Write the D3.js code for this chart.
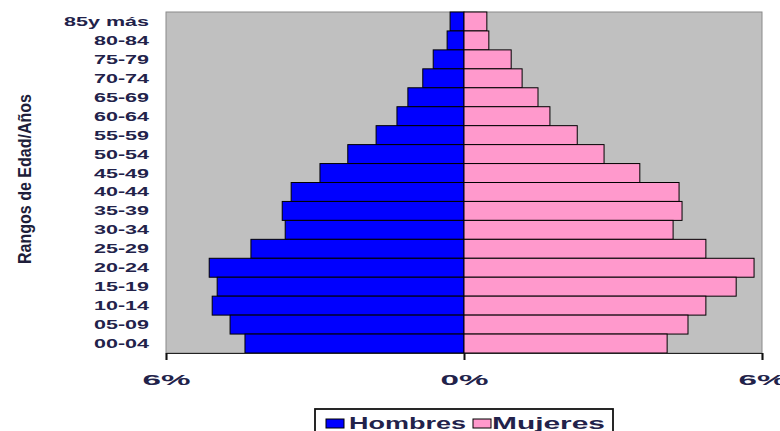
<!DOCTYPE html>
<html>
<head>
<meta charset="utf-8">
<script src="https://cdn.jsdelivr.net/npm/d3@7/dist/d3.min.js"></script>
<style>
  html, body { margin: 0; padding: 0; background: #ffffff; }
  svg { display: block; }
  text { font-family: "Liberation Sans", Arial, sans-serif; font-weight: bold; }
</style>
</head>
<body>
<svg id="chart" width="780" height="431"></svg>
<script>
// Age groups, oldest at the top
const ageGroups = ["85y más", "80-84", "75-79", "70-74", "65-69", "60-64", "55-59", "50-54",
  "45-49", "40-44", "35-39", "30-34", "25-29", "20-24", "15-19", "10-14", "05-09", "00-04"];
// Share of total population (%) per age group
const hombres = [0.28, 0.34, 0.62, 0.83, 1.13, 1.35, 1.77, 2.34, 2.90, 3.48, 3.66, 3.60, 4.29, 5.13, 4.97, 5.07, 4.71, 4.41];
const mujeres = [0.46, 0.50, 0.95, 1.17, 1.49, 1.73, 2.28, 2.82, 3.54, 4.33, 4.39, 4.21, 4.87, 5.84, 5.48, 4.87, 4.51, 4.09];
const xTicks = [-6, 0, 6];
const seriesNames = ["Hombres", "Mujeres"];
const colors = ["#0000ff", "#ff99cc"];

const svg = d3.select("#chart");
const plot = { left: 166, right: 762, top: 12, bottom: 353 };

const x = d3.scaleLinear().domain([-6, 6]).range([plot.left, plot.right]);
const y = d3.scaleBand().domain(ageGroups).range([plot.top, plot.bottom]).padding(0);

// Plot area
svg.append("rect")
  .attr("x", plot.left).attr("y", plot.top)
  .attr("width", plot.right - plot.left).attr("height", plot.bottom - plot.top)
  .attr("fill", "#c0c0c0").attr("stroke", "#8a8a8a").attr("stroke-width", 1);

const rows = ageGroups.map((g, i) => ({ g, m: hombres[i], f: mujeres[i] }));

// Male bars extend left of zero, female bars right
svg.append("g").selectAll("rect").data(rows).join("rect")
  .attr("x", d => x(-d.m)).attr("y", d => y(d.g))
  .attr("width", d => x(0) - x(-d.m)).attr("height", y.bandwidth())
  .attr("fill", colors[0]).attr("stroke", "#000").attr("stroke-width", 1);

svg.append("g").selectAll("rect").data(rows).join("rect")
  .attr("x", x(0)).attr("y", d => y(d.g))
  .attr("width", d => x(d.f) - x(0)).attr("height", y.bandwidth())
  .attr("fill", colors[1]).attr("stroke", "#000").attr("stroke-width", 1);

// Horizontal axis
const xAxis = svg.append("g")
  .attr("transform", `translate(0,${plot.bottom})`)
  .call(d3.axisBottom(x).tickValues(xTicks).tickSize(7).tickPadding(14)
    .tickFormat(d => Math.abs(d) + "%"));
xAxis.select(".domain").attr("stroke", "#222").attr("stroke-width", 1.2);
xAxis.selectAll(".tick line").attr("stroke", "#111").attr("stroke-width", 2);
xAxis.selectAll(".tick text")
  .attr("fill", "#22224a").attr("font-size", 15).attr("font-weight", "bold")
  .attr("font-family", "'Liberation Sans', Arial, sans-serif")
  .attr("textLength", 48).attr("lengthAdjust", "spacingAndGlyphs");

// Age group labels
svg.append("g").selectAll("text").data(ageGroups).join("text")
  .attr("x", 149).attr("y", d => y(d) + y.bandwidth() / 2 + 4.5)
  .attr("text-anchor", "end").attr("font-size", 12.5).attr("fill", "#22224a")
  .text(d => d)
  .each(function () {
    const w = this.getComputedTextLength();
    d3.select(this).attr("textLength", w * 1.72).attr("lengthAdjust", "spacingAndGlyphs");
  });

// Vertical axis title
svg.append("text")
  .attr("transform", "translate(31,179) rotate(-90)")
  .attr("text-anchor", "middle")
  .attr("font-family", "'Liberation Sans Narrow', 'Arial Narrow', 'Liberation Sans', sans-serif")
  .attr("font-size", 18).attr("fill", "#1e1e3a")
  .attr("textLength", 170).attr("lengthAdjust", "spacingAndGlyphs")
  .text("Rangos de Edad/Años");

// Legend
const legend = svg.append("g");
legend.append("rect")
  .attr("x", 315).attr("y", 409).attr("width", 298).attr("height", 40)
  .attr("fill", "#fff").attr("stroke", "#111").attr("stroke-width", 1.8);
const legendItems = [
  { sx: 326, tx: 349, tw: 117 },
  { sx: 473, tx: 492, tw: 113 }
];
legendItems.forEach((it, i) => {
  legend.append("rect")
    .attr("x", it.sx).attr("y", 419).attr("width", 18).attr("height", 9)
    .attr("fill", colors[i]).attr("stroke", "#000").attr("stroke-width", 1);
  legend.append("text")
    .attr("x", it.tx).attr("y", 428.5)
    .attr("font-size", 16.5).attr("fill", "#22224a")
    .attr("textLength", it.tw).attr("lengthAdjust", "spacingAndGlyphs")
    .text(seriesNames[i]);
});
</script>
</body>
</html>
